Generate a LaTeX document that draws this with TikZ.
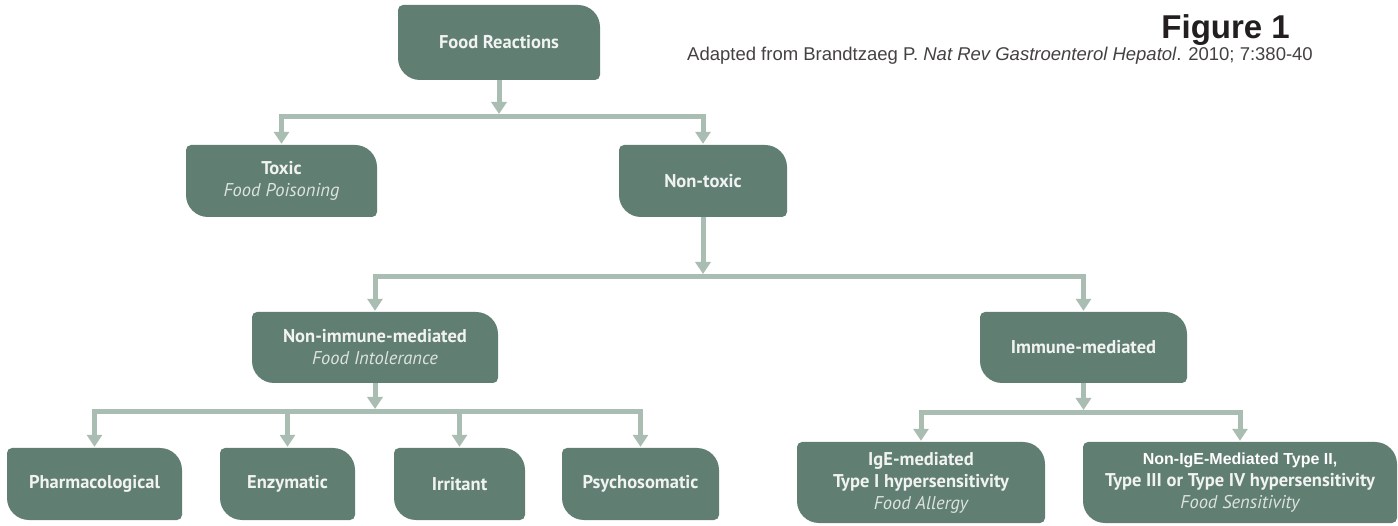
\documentclass[tikz,border=0pt]{standalone}
\usepackage{fontspec}
\setmainfont{PT Sans}
\newfontfamily\hdfont{Liberation Sans}
\usetikzlibrary{arrows.meta,calc}
\definecolor{boxc}{HTML}{617E72}
\definecolor{linec}{HTML}{A9BDB3}
\definecolor{txtc}{HTML}{F0F3F1}
\definecolor{subc}{HTML}{DCE4DF}
\definecolor{headc}{HTML}{231F20}
\newcommand\cardfill{%
  \fill[boxc] ($(path picture bounding box.north west)+(5pt,0)$)
    -- ($(path picture bounding box.north east)+(-22pt,0)$) arc[start angle=90,end angle=0,radius=22pt]
    -- ($(path picture bounding box.south east)+(0,5pt)$) arc[start angle=0,end angle=-90,radius=5pt]
    -- ($(path picture bounding box.south west)+(22pt,0)$) arc[start angle=270,end angle=180,radius=22pt]
    -- ($(path picture bounding box.north west)+(0,-5pt)$) arc[start angle=180,end angle=90,radius=5pt]
    -- cycle;}
\tikzset{
  card/.style={rectangle, inner sep=0pt, align=center, text=txtc,
    font=\fontsize{18.5}{22}\selectfont\bfseries, path picture={\cardfill}},
  conn/.style={draw=linec, line width=5pt, line join=miter},
  arr/.style={conn, -{Triangle[width=15pt,length=12pt]}, shorten >=1pt}
}
\newcommand\subt[1]{{\mdseries\itshape\color{subc}#1}}
\begin{document}
\begin{tikzpicture}[x=1pt,y=-1pt]
\useasboundingbox[fill=white] (0,0) rectangle (1398,526);
% nodes
\node[card, minimum width=202pt, minimum height=75pt] (fr) at (499,42.5) {Food Reactions};
\node[card, minimum width=191pt, minimum height=72pt] (tox) at (281.5,181) {Toxic\\\subt{Food Poisoning}};
\node[card, minimum width=168pt, minimum height=72pt] (nt) at (703,181) {Non-toxic};
\node[card, minimum width=246pt, minimum height=71pt] (nim) at (375,347.5) {Non-immune-mediated\\\subt{Food Intolerance}};
\node[card, minimum width=207pt, minimum height=71pt] (im) at (1083.5,347.5) {Immune-mediated};
\node[card, minimum width=175pt, minimum height=72pt] (ph) at (94.5,484) {Pharmacological};
\node[card, minimum width=135pt, minimum height=72pt] (en) at (287.5,484) {Enzymatic};
\node[card, minimum width=131pt, minimum height=72pt] (ir) at (459.5,484) {Irritant};
\node[card, minimum width=157pt, minimum height=72pt] (ps) at (640.5,484) {Psychosomatic};
\node[card, minimum width=248pt, minimum height=81pt] (ige) at (921,482.5) {IgE-mediated\\Type I hypersensitivity\\\subt{Food Allergy}};
\node[card, minimum width=314pt, minimum height=81pt] (nige) at (1240,482.5) {{\hdfont\fontsize{16}{22}\selectfont\color{white}Non-IgE-Mediated Type II,}\\Type III or Type IV hypersensitivity\\\subt{Food Sensitivity}};
% header
\node[anchor=base east, inner sep=0pt, text=headc, font=\hdfont\bfseries\fontsize{33}{36}\selectfont] (fig) at (1290,39) {Figure 1};
\node[anchor=base east, inner sep=0pt, text=headc!85, font=\hdfont\fontsize{18.5}{22}\selectfont] (cite) at (1313,61) {Adapted from Brandtzaeg P. \textit{Nat Rev Gastroenterol Hepatol}. 2010; 7:380-40};
% junctions
\coordinate (b1) at (499,117);
\coordinate (b2) at (703,277);
\coordinate (b3) at (375,412);
\coordinate (b4) at (1083.5,413);
% connectors
\draw[arr, shorten >=3pt] (fr.south) -- (b1);
\draw[arr] (b1) -| (tox.north);
\draw[arr] (b1) -| (nt.north);
\draw[arr, shorten >=3pt] (nt.south) -- (b2);
\draw[arr] (b2) -| (nim.north);
\draw[arr] (b2) -| (im.north);
\draw[arr, shorten >=3pt] (nim.south) -- (b3);
\draw[arr] (b3) -| (ph.north);
\draw[arr] (b3) -| (en.north);
\draw[arr] (b3) -| (ir.north);
\draw[arr] (b3) -| (ps.north);
\draw[arr, shorten >=3pt] (im.south) -- (b4);
\draw[arr] (b4) -| (ige.north);
\draw[arr] (b4) -| (nige.north);
\end{tikzpicture}
\end{document}
